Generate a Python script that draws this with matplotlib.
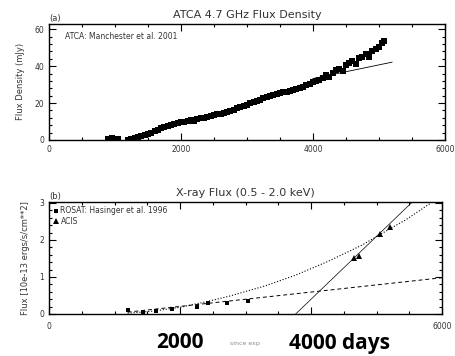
import matplotlib.pyplot as plt
from matplotlib.ticker import MultipleLocator

# radio data (ATCA 4.7 GHz)
radio_day = [900, 950, 1000, 1050,
             1200, 1250, 1300, 1350, 1400, 1450, 1500, 1550, 1600, 1650, 1700, 1750,
             1800, 1850, 1900, 1950, 2000, 2050, 2100, 2150, 2200, 2250, 2300, 2350,
             2400, 2450, 2500, 2550, 2600, 2650, 2700, 2750, 2800, 2850, 2900, 2950,
             3000, 3050, 3100, 3150, 3200, 3250, 3300, 3350, 3400, 3450, 3500, 3550,
             3600, 3650, 3700, 3750, 3800, 3850, 3900, 3950, 4000, 4050, 4100, 4150,
             4200, 4250, 4300, 4350, 4400, 4450, 4500, 4550, 4600, 4650, 4700, 4750,
             4800, 4850, 4900, 4950, 5000, 5050, 5080]
radio_flux = [0.5, 0.8, 0.6, 0.4,
              0.0, 0.5, 0.8, 1.5, 2.0, 2.8, 3.2, 4.0, 4.6, 5.5, 6.2, 7.0,
              7.6, 8.3, 8.6, 9.2, 9.5, 9.9, 10.2, 10.6, 10.5, 11.3, 11.8, 12.0,
              12.6, 13.0, 13.3, 13.9, 14.3, 14.5, 15.2, 15.8, 16.0, 17.2, 17.6, 18.3,
              19.0, 19.8, 20.6, 21.3, 21.8, 22.5, 23.2, 23.6, 24.3, 24.8, 25.2, 25.9,
              26.2, 26.8, 27.3, 27.7, 28.2, 28.9, 29.8, 30.5, 31.2, 31.9, 32.6, 33.8,
              35.0, 34.2, 36.5, 37.8, 38.6, 37.2, 40.5, 41.8, 42.6, 41.2, 44.5, 45.2,
              46.5, 45.0, 48.5, 49.2, 50.3, 52.5, 53.5]
radio_err = 1.5
radio_fit_day = [4000, 5200]
radio_fit_flux = [33.3, 42.2]

# X-ray data
rosat_day = [1209, 1440, 1640, 1880, 2265, 2420, 2720, 3030]
rosat_flux = [0.10, 0.05, 0.08, 0.13, 0.20, 0.30, 0.30, 0.35]
acis_day = [4650, 4730, 5050, 5210]
acis_flux = [1.50, 1.57, 2.16, 2.35]
lin_day = [1200, 6000]
lin_flux = [0.05, 0.98]
steep_day = [3765, 5530]
steep_flux = [0.0, 3.0]
curve_day = [1200, 1600, 2000, 2400, 2770, 3300, 3765, 4270, 4776, 5035, 5450, 5830]
curve_flux = [0.02, 0.08, 0.18, 0.33, 0.49, 0.76, 1.05, 1.43, 1.86, 2.13, 2.55, 3.0]

txt = '0.2'
fig = plt.figure(figsize=(4.56, 3.56), dpi=100)

def style(ax, ymaj, ymin):
    ax.set_xlim(0, 6000)
    ax.xaxis.set_major_locator(MultipleLocator(2000))
    ax.xaxis.set_minor_locator(MultipleLocator(500))
    ax.yaxis.set_major_locator(MultipleLocator(ymaj))
    ax.yaxis.set_minor_locator(MultipleLocator(ymin))
    ax.tick_params(which='both', direction='in', top=True, right=True,
                   labelsize=5.5, labelcolor=txt, width=0.8)
    ax.tick_params(which='major', length=5)
    ax.tick_params(which='minor', length=2.5)
    for s in ax.spines.values():
        s.set_linewidth(1.0)

# top panel
ax1 = fig.add_axes([0.1075, 0.607, 0.868, 0.326])
ax1.errorbar(radio_day, radio_flux, yerr=radio_err, fmt='s', color='k',
             ms=3.8, mew=0, elinewidth=1.2, capsize=0)
ax1.plot(radio_fit_day, radio_fit_flux, '-', color='k', lw=0.6)
ax1.set_ylim(0, 63)
style(ax1, 20, 4)
ax1.set_ylabel('Flux Density (mJy)', fontsize=6, color=txt, labelpad=7)
ax1.set_title('ATCA 4.7 GHz Flux Density', fontsize=8, color=txt, pad=4)
ax1.text(0.0, 1.01, '(a)', transform=ax1.transAxes, fontsize=6, color=txt,
         va='bottom')
ax1.text(0.04, 0.93, 'ATCA: Manchester et al. 2001', transform=ax1.transAxes,
         fontsize=5.5, color=txt, va='top')

# bottom panel
ax2 = fig.add_axes([0.1075, 0.118, 0.862, 0.315])
ax2.plot(lin_day, lin_flux, '--', color='k', lw=0.7, dashes=(4, 3))
ax2.plot(curve_day, curve_flux, ':', color='k', lw=0.8)
ax2.plot(steep_day, steep_flux, '-', color='k', lw=0.5)
ax2.plot(rosat_day, rosat_flux, 's', color='k', ms=3.5, mew=0,
         label='ROSAT: Hasinger et al. 1996')
ax2.plot(acis_day, acis_flux, '^', color='k', ms=4, mew=0, label='ACIS')
ax2.set_ylim(0, 3.03)
style(ax2, 1, 0.2)
ax2.set_xticks([0, 2000, 4000, 6000])
ax2.set_xticklabels(['0', '', '', '6000'])
ax2.tick_params(axis='x', pad=6)
ax2.set_ylabel('Flux [10e-13 ergs/s/cm**2]', fontsize=6, color=txt, labelpad=7)
ax2.set_title('X-ray Flux (0.5 - 2.0 keV)', fontsize=8, color=txt, pad=4)
ax2.text(0.0, 1.01, '(b)', transform=ax2.transAxes, fontsize=6, color=txt,
         va='bottom')
ax2.legend(loc='upper left', fontsize=5.5, frameon=False, handlelength=0.6,
           handletextpad=0.3, labelspacing=0.2, borderaxespad=0.2,
           labelcolor=txt)

# big axis annotations under the lower panel
fig.text(180 / 456, 1 - 343 / 356, '2000', fontsize=15, fontweight='bold',
         family='Open Sans', ha='center', va='center')
fig.text(245 / 456, 1 - 343 / 356, 'since exp', fontsize=4.5, color='0.55',
         ha='center', va='center')
fig.text(340 / 456, 1 - 343 / 356, '4000 days', fontsize=15, fontweight='bold',
         family='Open Sans', ha='center', va='center')

fig.savefig('out.png', dpi=100)
